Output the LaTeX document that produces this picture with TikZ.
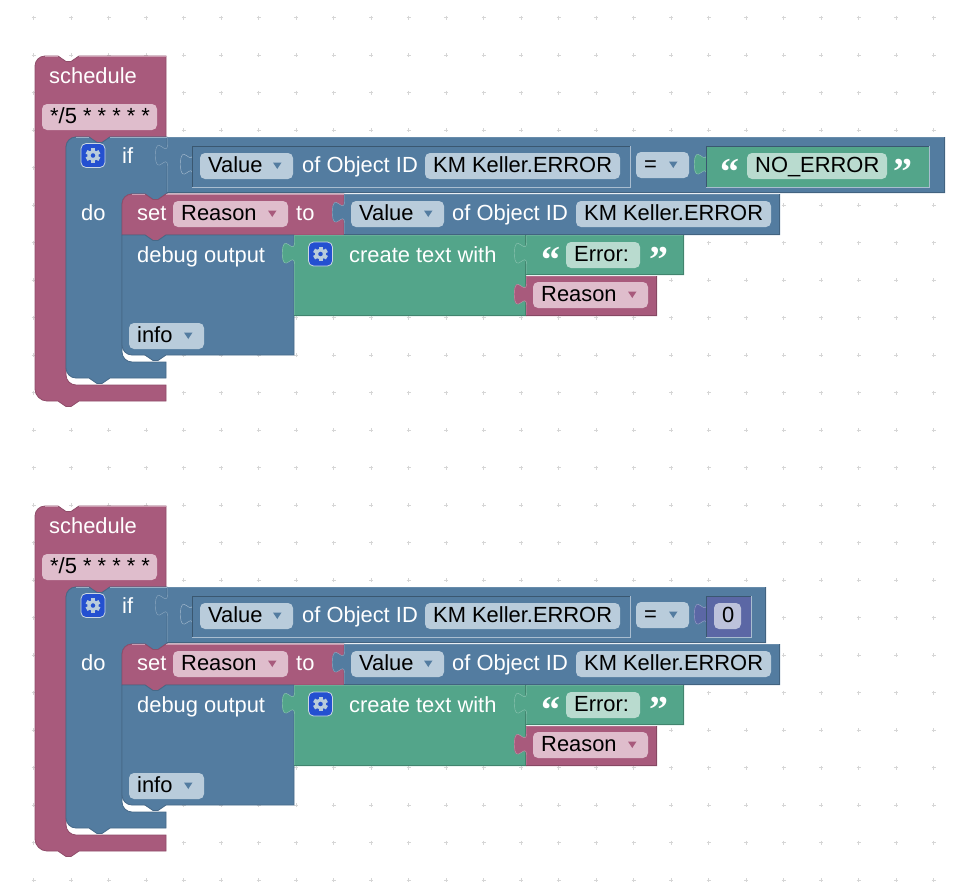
\documentclass[tikz,border=0pt]{standalone}
\usepackage{fontspec}
\setmainfont{Liberation Sans}
\newfontfamily\quotefont{Liberation Serif}
\usepackage{xcolor}
\definecolor{schedcol}{HTML}{A85A7C}
\definecolor{logiccol}{HTML}{537CA0}
\definecolor{textcol}{HTML}{53A58A}
\definecolor{numcol}{HTML}{5B67A5}
\definecolor{schedfield}{HTML}{DFBDCC}
\definecolor{logicfield}{HTML}{B9CCDB}
\definecolor{textfield}{HTML}{B9DBCF}
\definecolor{numfield}{HTML}{BDC2DB}
\definecolor{gearblue}{HTML}{2450D0}
\tikzset{
  blocklabel/.style={anchor=base west,inner sep=0pt,text=white,font=\fontsize{21.9}{26}\selectfont},
  fieldlabel/.style={anchor=base west,inner sep=0pt,text=black,font=\fontsize{21.9}{26}\selectfont},
  quotelabel/.style={anchor=base west,inner sep=0pt,text=white,font=\quotefont\bfseries\fontsize{38}{38}\selectfont},
  gearbox/.style={draw=white!70!logiccol,line width=0.8pt,fill=gearblue,rounded corners=5pt,minimum size=24pt,inner sep=0pt},
  griddot/.style={draw=black!16,line width=1pt},
}
% value tab on the left side of a block
\newcommand{\tabpath}{.. controls +(0,15) and +(0,-23.25) .. ++(-12,11.25) .. controls +(0,23.25) and +(0,-15) .. ++(12,11.25)}
\newcommand{\notchpath}{-- ++(8,5.5) -- ++(5,0) -- ++(8,-5.5)}
\newcommand{\notchback}{-- ++(-8,5.5) -- ++(-5,0) -- ++(-8,-5.5)}
% colour, left, top, right, bottom
\newcommand{\valueblock}[5]{
  \fill[#1] (#2,#3) -- (#2,#3+7) \tabpath -- (#2,#5) -- (#4,#5) -- (#4,#3) -- cycle;
  \draw[#1!65!white] (#4,#3+0.5) -- (#2+0.5,#3+0.5) -- (#2+0.5,#3+7) \tabpath -- (#2+0.5,#5);
  \draw[#1!80!black] (#2,#5-0.5) -- (#4-0.5,#5-0.5) -- (#4-0.5,#3);
}
% frame of the hole round an inline block
\newcommand{\holeframe}[4]{
  \draw[logiccol!70!black] (#1,#4) -- (#1,#2) -- (#3,#2);
  \draw[logiccol!50!white] (#3,#2) -- (#3,#4) -- (#1,#4);
}
% name, colour, left, top, right, text
\newcommand{\plainfield}[6]{
  \fill[#2,rounded corners=5pt] (#3,#4) rectangle (#5,#4+26);
  \node[fieldlabel] (#1) at (#3+8,#4+19.3) {#6};
}
% the same, with a small arrow in arrowcolour (argument 7)
\newcommand{\dropfield}[7]{
  \plainfield{#1}{#2}{#3}{#4}{#5}{#6}
  \fill[#7] (#5-20,#4+9.5) -- (#5-11.5,#4+9.5) -- (#5-15.75,#4+16) -- cycle;
}
\newcommand{\gearbutton}[3]{
  \node[gearbox] (#1) at (#2,#3) {};
  \foreach \a in {0,60,...,300}
    \fill[logicfield,rotate around={\a:(#2,#3)}] (#2-2,#3-7.4) rectangle (#2+2,#3-4);
  \draw[logicfield,line width=3pt] (#2,#3) circle (4pt);
}
% one whole stack: id, offset, right end of the comparison, literal
\newcommand{\schedulestack}[4]{
\begin{scope}[shift={(0,#2)}]
% schedule
\filldraw[fill=schedcol,draw=schedcol!85!black,line width=0.8pt] (35,66) .. controls (35,60.5) and (39.5,56) .. (45,56) -- (58,56) \notchpath -- (166,56) -- (166,137) -- (110,137) \notchback -- (76,137) .. controls (70.5,137) and (66,141.5) .. (66,147) -- (66,375) .. controls (66,380.5) and (70.5,385) .. (76,385) -- (166,385) -- (166,401) -- (79,401) \notchback -- (47,401) .. controls (40.5,401) and (35,395.5) .. (35,389) -- cycle;
\draw[schedcol!60!white,line width=0.8pt] (45,56.5) -- (58,56.5);
\draw[schedcol!60!white,line width=0.8pt] (79,56.5) -- (165.5,56.5);
\node[blocklabel] (title#1) at (49,83) {schedule};
\plainfield{cron#1}{schedfield}{42}{104}{157}{*/5 * * * * *}
% if
\filldraw[fill=logiccol,draw=logiccol!85!black,line width=0.8pt] (66,147) .. controls (66,141.5) and (70.5,137) .. (76,137) -- (89,137) \notchpath -- (167,137) -- (167,194) -- (166,194) \notchback -- (132,194) .. controls (126.5,194) and (122,198.5) .. (122,204) -- (122,352) .. controls (122,357.5) and (126.5,362) .. (132,362) -- (166,362) -- (166,378) -- (110,378) \notchback -- (76,378) .. controls (70.5,378) and (66,373.5) .. (66,368) -- cycle;
\draw[logiccol!60!white,line width=0.8pt] (76,137.5) -- (89,137.5);
\draw[logiccol!60!white,line width=0.8pt] (110,137.5) -- (166.5,137.5);
\gearbutton{ifgear#1}{93}{155.5}
\node[blocklabel] (iflabel#1) at (122,163) {if};
\node[blocklabel] (dolabel#1) at (81,220) {do};
% comparison
\valueblock{logiccol}{167}{137}{#3}{193}
\fill[logiccol] (192,146) -- (192,153) \tabpath -- (192,187) -- (630,187) -- (630,146) -- cycle;
\draw[logiccol!50!white] (192.5,153) \tabpath;
\holeframe{192}{146}{630}{187}
\dropfield{objvalue#1}{logicfield}{200}{153}{293}{Value}{logiccol}
\node[blocklabel] (objof#1) at (302,172.3) {of Object ID};
\plainfield{objid#1}{logicfield}{425}{153}{620}{KM Keller.ERROR}
\dropfield{compareop#1}{logicfield}{636}{152}{689}{=}{logiccol}
#4
% set
\filldraw[fill=schedcol,draw=schedcol!85!black,line width=0.8pt] (132,194) -- (145,194) \notchpath -- (344,194) -- (344,235) -- (166,235) \notchback -- (122,235) -- (122,204) .. controls (122,198.5) and (126.5,194) .. (132,194) -- cycle;
\draw[schedcol!60!white,line width=0.8pt] (132,194.5) -- (145,194.5);
\draw[schedcol!60!white,line width=0.8pt] (166,194.5) -- (344,194.5);
\node[blocklabel] (setlabel#1) at (137,220) {set};
\dropfield{setvar#1}{schedfield}{173}{201}{288}{Reason}{schedcol}
\node[blocklabel] (tolabel#1) at (296,220) {to};
\valueblock{logiccol}{344}{194}{780}{235}
\dropfield{setvalue#1}{logicfield}{351}{201}{444}{Value}{logiccol}
\node[blocklabel] (setof#1) at (452,220) {of Object ID};
\plainfield{setid#1}{logicfield}{576}{201}{771}{KM Keller.ERROR}
% debug
\filldraw[fill=logiccol,draw=logiccol!85!black,line width=0.8pt] (122,235) -- (145,235) \notchpath -- (294,235) -- (294,355) -- (166,355) \notchback -- (132,355) .. controls (126.5,355) and (122,350.5) .. (122,345) -- cycle;
\node[blocklabel] (debuglabel#1) at (137,262) {debug output};
\dropfield{level#1}{logicfield}{129}{323}{204}{info}{logiccol}
% create text
\valueblock{textcol}{294}{235}{526}{316}
\gearbutton{textgear#1}{320.5}{254}
\node[blocklabel] (createlabel#1) at (349,262) {create text with};
\valueblock{textcol}{526}{235}{684}{275}
\node[quotelabel] (erropen#1) at (541,272) {“};
\plainfield{errfield#1}{textfield}{566}{242}{640}{Error:}
\node[quotelabel] (errclose#1) at (649.5,272) {”};
\valueblock{schedcol}{526}{276}{657}{316}
\dropfield{reason#1}{schedfield}{533}{282}{648}{Reason}{schedcol}
\end{scope}
}
\begin{document}
\begin{tikzpicture}[x=1pt,y=-1pt]
\useasboundingbox (0,0) rectangle (963,889);
\fill[white] (0,0) rectangle (963,889);
\foreach \i in {0,...,24}
  \foreach \j in {0,...,23} {
    \draw[griddot] (33.5+37.5*\i-2,17.5+37.5*\j) -- (33.5+37.5*\i+2,17.5+37.5*\j);
    \draw[griddot] (33.5+37.5*\i,17.5+37.5*\j-2) -- (33.5+37.5*\i,17.5+37.5*\j+2);
  }
\schedulestack{a}{0}{945}{
  \valueblock{textcol}{706}{146}{929}{187}
  \holeframe{706}{146}{929}{187}
  \fill[textcol] (706.5,147) rectangle (928.5,186.5);
  \node[quotelabel] (litopen) at (720,184) {“};
  \plainfield{litfield}{textfield}{747}{153}{887}{NO\_ERROR}
  \node[quotelabel] (litclose) at (893,184) {”};
}
\schedulestack{b}{450}{766}{
  \fill[numcol] (706,146) -- (706,153) \tabpath -- (706,187) -- (751,187) -- (751,146) -- cycle;
  \draw[numcol!60!white] (706.5,153) \tabpath;
  \holeframe{706}{146}{751}{187}
  \plainfield{numfield}{numfield}{714}{153}{741}{0}
}
\end{tikzpicture}
\end{document}
